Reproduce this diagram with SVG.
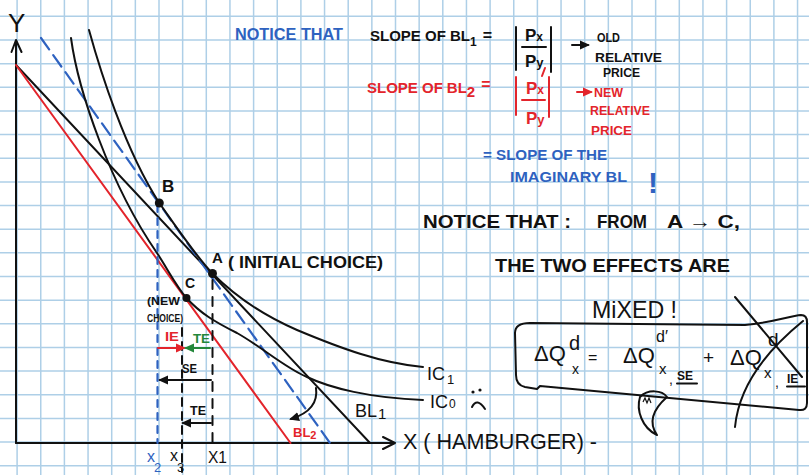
<svg xmlns="http://www.w3.org/2000/svg" width="809" height="475" viewBox="0 0 809 475">
<defs>
<style>
.grid{stroke:#aecfe7;stroke-width:1.5;fill:none}
text{font-family:"Liberation Sans","DejaVu Sans",sans-serif;font-weight:bold}
.n{font-weight:normal}
.k{fill:#111}
.b{fill:#2e62c0}
.r{fill:#e3242b}
.g{fill:#23873a}
.ln{fill:none;stroke:#111;stroke-width:2;stroke-linecap:round;stroke-linejoin:round}
.red{fill:none;stroke:#e3242b;stroke-width:2;stroke-linecap:round}
.blu{fill:none;stroke:#2e62c0;stroke-width:2.2;stroke-linecap:round}
.grn{fill:none;stroke:#23873a;stroke-width:2.2;stroke-linecap:round}
.dot{fill:#111}
</style>
<marker id="ak" viewBox="0 0 10 10" refX="8" refY="5" markerWidth="10" markerHeight="10" markerUnits="userSpaceOnUse" orient="auto"><path d="M0,0.5 L10,5 L0,9.5 z" fill="#111"/></marker>
<marker id="ar" viewBox="0 0 10 10" refX="8" refY="5" markerWidth="10" markerHeight="10" markerUnits="userSpaceOnUse" orient="auto"><path d="M0,0.5 L10,5 L0,9.5 z" fill="#e3242b"/></marker>
<marker id="ag" viewBox="0 0 10 10" refX="8" refY="5" markerWidth="10" markerHeight="10" markerUnits="userSpaceOnUse" orient="auto"><path d="M0,0.5 L10,5 L0,9.5 z" fill="#23873a"/></marker>
</defs>
<rect width="809" height="475" fill="#fff"/>
<path class="grid" d="M17.1 0V475M40.75 0V475M64.4 0V475M88.05 0V475M111.7 0V475M135.35 0V475M159 0V475M182.65 0V475M206.3 0V475M229.95 0V475M253.6 0V475M277.25 0V475M300.9 0V475M324.55 0V475M348.2 0V475M371.85 0V475M395.5 0V475M419.15 0V475M442.8 0V475M466.45 0V475M490.1 0V475M513.75 0V475M537.4 0V475M561.05 0V475M584.7 0V475M608.35 0V475M632 0V475M655.65 0V475M679.3 0V475M702.95 0V475M726.6 0V475M750.25 0V475M773.9 0V475M797.55 0V475M0 16.35H809M0 40H809M0 63.65H809M0 87.3H809M0 110.95H809M0 134.6H809M0 158.25H809M0 181.9H809M0 205.55H809M0 229.2H809M0 252.85H809M0 276.5H809M0 300.15H809M0 323.8H809M0 347.45H809M0 371.1H809M0 394.75H809M0 418.4H809M0 442.05H809M0 465.7H809"/>

<g id="axes">
<path class="ln" d="M16 443V40M11.5 52L16 40L21.5 52"/>
<path class="ln" d="M16 443H395M383 437L395 443L383 449"/>
<text x="8" y="32" font-size="26" class="k n">Y</text>
<text x="403" y="449" font-size="22" class="k n" textLength="194" lengthAdjust="spacingAndGlyphs">X ( HAMBURGER) -</text>
</g>

<g id="budget-lines">
<path class="ln" d="M16 65L370 443"/>
<path class="red" d="M16 65L290.5 443"/>
<path class="blu" d="M41 38L330 443" stroke-dasharray="14 7"/>
</g>

<g id="indifference-curves">
<path class="ln" d="M89 30C100 70 125 150 159.3 203C175 225 195 255 212.5 273.5C235 296 260 314 297 330C340 348 380 363 423 367"/>
<path class="ln" d="M71 38C78 90 110 185 157 253C167 268 176 286 186.5 298C200 313 215 322 237 333C262 347 285 368 307 377C330 388 370 398 423 400"/>
</g>

<g id="connectors">
<path class="blu" d="M157.5 205V443" stroke-dasharray="7 6"/>
<path class="ln" d="M182 328V472" stroke-dasharray="8 6"/>
<path class="ln" d="M212.5 280V443" stroke-dasharray="9 8"/>
<path class="red" d="M158 348H184" marker-end="url(#ar)"/>
<path class="grn" d="M210 348H186" marker-end="url(#ag)"/>
<path class="ln" d="M211 380H160" marker-end="url(#ak)"/>
<path class="ln" d="M211 423H183" marker-end="url(#ak)"/>
<path class="ln" d="M316 388C318 402 310 413 291 419" marker-end="url(#ak)"/>
<path class="ln" d="M572 45H588" marker-end="url(#ak)"/>
<path class="red" d="M577 92H591" marker-end="url(#ar)"/>
</g>

<g id="point-B">
<circle class="dot" cx="159.3" cy="203" r="4.5"/>
<text x="162" y="192" font-size="17" class="k">B</text>
</g>
<g id="point-A">
<circle class="dot" cx="212.5" cy="273.5" r="4.5"/>
<text x="212" y="263" font-size="15" class="k">A</text>
<text x="228" y="268" font-size="16" class="k" textLength="155" lengthAdjust="spacingAndGlyphs">( INITIAL CHOICE)</text>
</g>
<g id="point-C">
<circle class="dot" cx="186.5" cy="298" r="4"/>
<text x="185" y="288" font-size="14" class="k">C</text>
<text x="147" y="305" font-size="11" class="k" textLength="33" lengthAdjust="spacingAndGlyphs">(NEW</text>
<text x="147" y="322" font-size="11" class="k" textLength="36" lengthAdjust="spacingAndGlyphs">CHOICE)</text>
</g>

<g id="effect-labels">
<text x="165" y="341" font-size="13" class="r" textLength="14" lengthAdjust="spacingAndGlyphs">IE</text>
<text x="193" y="343" font-size="13" class="g" textLength="17" lengthAdjust="spacingAndGlyphs">TE</text>
<text x="182" y="373" font-size="13" class="k" textLength="15" lengthAdjust="spacingAndGlyphs">SE</text>
<text x="190" y="415" font-size="13" class="k" textLength="16" lengthAdjust="spacingAndGlyphs">TE</text>
<text x="147" y="462" font-size="16" class="b n">x<tspan dx="-1" dy="10" font-size="13">2</tspan></text>
<text x="170" y="461" font-size="16" class="k n">x<tspan dx="-1" dy="11" font-size="13">3</tspan></text>
<text x="208" y="463" font-size="16" class="k n" textLength="19" lengthAdjust="spacingAndGlyphs">X1</text>
</g>

<g id="curve-labels">
<text x="427" y="380" font-size="18" class="k n">IC<tspan dx="2" dy="4" font-size="13">1</tspan></text>
<text x="430" y="408" font-size="18" class="k n">IC<tspan dx="1" font-size="12">0</tspan></text>
<circle class="dot" cx="473" cy="392" r="1.6"/>
<circle class="dot" cx="480" cy="390" r="1.6"/>
<path class="ln" d="M472 407Q477 397 485 409"/>
<text x="355" y="417" font-size="18" class="k n">BL<tspan dx="1" dy="2" font-size="15">1</tspan></text>
<text x="293" y="437" font-size="13" class="r">BL<tspan dx="0" dy="2" font-size="11">2</tspan></text>
</g>

<g id="note-slopes">
<text x="235" y="40" font-size="16" class="b" textLength="108" lengthAdjust="spacingAndGlyphs">NOTICE THAT</text>
<text x="370" y="41" font-size="15" class="k">SLOPE OF BL<tspan dy="5" font-size="12">1</tspan><tspan dx="6" dy="-5" font-size="16">=</tspan></text>
<path class="ln" d="M516 27V70M551 27V72M522 47H546"/>
<text x="525" y="41" font-size="17" class="k">P<tspan font-size="12">x</tspan></text>
<text x="525" y="67" font-size="17" class="k">P<tspan font-size="13">y</tspan></text>
<text x="597" y="42" font-size="13" class="k" textLength="23" lengthAdjust="spacingAndGlyphs">OLD</text>
<text x="595" y="62" font-size="13" class="k" textLength="67" lengthAdjust="spacingAndGlyphs">RELATIVE</text>
<text x="603" y="77" font-size="13" class="k" textLength="37" lengthAdjust="spacingAndGlyphs">PRICE</text>

<text x="367" y="93" font-size="15" class="r">SLOPE OF<tspan dx="4">BL</tspan><tspan dy="4" font-size="15">2</tspan><tspan dx="6" dy="-7" font-size="16">=</tspan></text>
<path class="red" d="M516 77V115M549 77V117M522 100H545M545 68L542 76"/>
<text x="526" y="94" font-size="17" class="r">P<tspan font-size="12">x</tspan></text>
<text x="526" y="124" font-size="17" class="r">P<tspan font-size="13">y</tspan></text>
<text x="594" y="97" font-size="13" class="r" textLength="29" lengthAdjust="spacingAndGlyphs">NEW</text>
<text x="590" y="115" font-size="13" class="r" textLength="60" lengthAdjust="spacingAndGlyphs">RELATIVE</text>
<text x="591" y="135" font-size="13" class="r" textLength="41" lengthAdjust="spacingAndGlyphs">PRICE</text>

<text x="483" y="160" font-size="14" class="b" textLength="124" lengthAdjust="spacingAndGlyphs">= SLOPE OF THE</text>
<text x="510" y="182" font-size="14" class="b" textLength="117" lengthAdjust="spacingAndGlyphs">IMAGINARY BL</text>
<text x="648" y="193" font-size="30" class="b">!</text>
</g>

<g id="note-effects">
<text x="423" y="228" font-size="19" class="k" textLength="148" lengthAdjust="spacingAndGlyphs">NOTICE THAT :</text>
<text x="597" y="228" font-size="19" class="k" textLength="50" lengthAdjust="spacingAndGlyphs">FROM</text>
<text x="667" y="228" font-size="19" class="k" textLength="73" lengthAdjust="spacingAndGlyphs">A → C,</text>
<text x="495" y="272" font-size="18" class="k" textLength="235" lengthAdjust="spacingAndGlyphs">THE TWO EFFECTS ARE</text>
<text x="592" y="318" font-size="24" class="k n" textLength="85" lengthAdjust="spacingAndGlyphs">MiXED !</text>
</g>

<g id="equation-box">
<path class="ln" d="M530 323L745 325C770 323 790 316 801 315Q807 315 807 322L807 403Q807 411 799 410L540 386L537 389L525 387Q516 385 516 375L515 333Q515 323 530 323Z"/>
<text class="k n" font-size="22"><tspan x="534" y="361">ΔQ</tspan><tspan x="569" y="350" font-size="20">d</tspan><tspan x="572" y="374" font-size="14">x</tspan><tspan x="588" y="363" font-size="16">=</tspan><tspan x="623" y="363">ΔQ</tspan><tspan x="656" y="342" font-size="16">d′</tspan><tspan x="659" y="374" font-size="15">x</tspan><tspan x="669" y="384" font-size="14">,</tspan><tspan x="677" y="380" font-size="12" style="font-weight:bold">SE</tspan><tspan x="703" y="364" font-size="19">+</tspan><tspan x="730" y="365">ΔQ</tspan><tspan x="768" y="346" font-size="19">d</tspan><tspan x="764" y="378" font-size="15">x</tspan><tspan x="775" y="387" font-size="14">,</tspan><tspan x="787" y="383" font-size="12" style="font-weight:bold">IE</tspan></text>
<path class="ln" d="M677 383.5H697M787 386.5H805"/>
<path class="ln" d="M735 297L802 377"/>
<path class="ln" d="M735 427C738 395 755 360 803 321"/>
<path class="ln" d="M640 397C636 410 642 428 657 435C650 425 650 412 667 397C662 390 648 389 640 397Z" fill="#fff"/>
<path d="M643 402l2 -4l2 5l2 -5l2 5" fill="none" stroke="#111" stroke-width="1.2"/>
</g>
</svg>
